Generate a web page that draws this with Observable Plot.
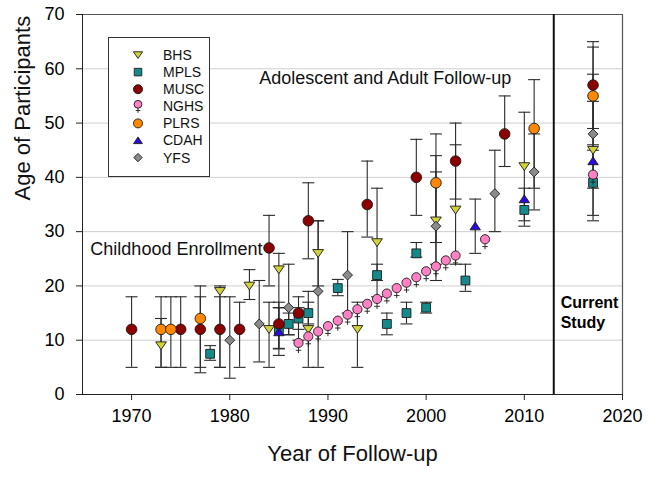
<!DOCTYPE html>
<html>
<head>
<meta charset="utf-8">
<script src="https://cdn.jsdelivr.net/npm/d3@7"></script>
<script src="https://cdn.jsdelivr.net/npm/@observablehq/plot@0.6"></script>
<style>
  body { margin: 0; background: #fff; }
  #chart { position: relative; width: 651px; height: 479px; font-family: Arial, "Liberation Sans", Helvetica, sans-serif; }
  #legend { position: absolute; left: 108px; top: 37px; width: 102px; height: 140px; border: 1px solid #333; background: #fff; box-sizing: border-box; }
</style>
</head>
<body>
<div id="chart"><div id="legend"></div></div>
<script>
// ---- tick labels ----
const xTicks = [1970, 1980, 1990, 2000, 2010, 2020];
const yTicks = [0, 10, 20, 30, 40, 50, 60, 70];
const gridLevels = [10, 20, 30, 40, 50, 60];

// ---- series (year, mean age, error bar low, error bar high) ----
const bhsYear = [1973, 1979, 1982, 1984, 1985, 1988, 1989, 1993, 1995, 2001, 2003, 2010, 2017];
const bhsAge  = [9, 19, 20, 12, 23, 12, 26, 12, 28, 32, 34, 42, 45];
const bhsLo   = [5, 5, 17.5, 5, 16, 5, 20, 5, 18, 24, 24, 32, 32];
const bhsHi   = [14, 20, 23, 17, 26, 19, 32, 17, 38, 44, 46, 52, 54];

const mplsYear = [1978, 1985, 1986, 1987, 1988, 1991, 1995, 1996, 1998, 1999, 2000, 2004, 2010, 2017];
const mplsAge  = [7.5, 12, 13, 14, 15, 19.6, 22, 13, 15, 26, 16, 21, 34, 39];
const mplsLo   = [6.3, 8.5, 11, 12, 13, 18.2, 21, 11, 13, 25.3, 15, 19, 31, 33];
const mplsHi   = [9, 16, 15, 16, 17, 21.2, 24, 15, 17, 28, 17, 24, 38, 45];

const muscYear = [1970, 1975, 1977, 1979, 1981, 1984, 1985, 1987, 1988, 1994, 1999, 2003, 2008, 2017];
const muscAge  = [12, 12, 12, 12, 12, 27, 13, 15, 32, 35, 40, 43, 48, 57];
const muscLo   = [5, 5, 5, 5, 5, 20, 8.4, 10, 25, 29, 33, 36, 42, 49];
const muscHi   = [18, 18, 18, 18, 17, 33, 17, 18, 39, 43, 47, 50, 55, 65];

const nghsYear = [1987, 1988, 1989, 1990, 1991, 1992, 1993, 1994, 1995, 1996, 1997, 1998, 1999, 2000, 2001, 2002, 2003, 2006, 2017];
const nghsAge  = [9.5, 10.7, 11.6, 12.6, 13.6, 14.7, 15.7, 16.7, 17.6, 18.6, 19.6, 20.6, 21.6, 22.7, 23.6, 24.7, 25.6, 28.6, 40.5];

const plrsYear = [1973, 1974, 1977, 2001, 2011, 2017];
const plrsAge  = [12, 12, 14, 39, 49, 55];
const plrsLo   = [5, 5, 4, 28, 38, 46];
const plrsHi   = [18, 18, 20, 48, 58, 64];

const cdahYear = [1985, 2005, 2010, 2017];
const cdahAge  = [11.5, 31, 36, 43];
const cdahLo   = [7.2, 26, null, null];
const cdahHi   = [16, 36, null, null];

const yfsYear = [1980, 1983, 1986, 1989, 1992, 2001, 2007, 2011, 2017];
const yfsAge  = [10, 13, 16, 19, 22, 31, 37, 41, 48];
const yfsLo   = [3, 6, 11, 5, 15, 21, 30, 34, 38];
const yfsHi   = [18, 21, 24, 32, 30, 41, 45, 48, 59];

// ---- symbols ----
const R = s => Math.sqrt(s / Math.PI);
const sym = {
  down: { draw(c, s) { const k = R(s); c.moveTo(-k, -0.7 * k); c.lineTo(k, -0.7 * k); c.lineTo(0, 0.75 * k); c.closePath(); } },
  up: { draw(c, s) { const k = R(s); c.moveTo(0, -0.8 * k); c.lineTo(k, 0.7 * k); c.lineTo(-k, 0.7 * k); c.closePath(); } },
  square: { draw(c, s) { const k = R(s); c.rect(-0.85 * k, -0.85 * k, 1.7 * k, 1.7 * k); } },
  circle: { draw(c, s) { const k = R(s); c.moveTo(k, 0); c.arc(0, 0, k, 0, 2 * Math.PI); c.closePath(); } },
  diamond: { draw(c, s) { const k = R(s) * 1.05; c.moveTo(0, -k); c.lineTo(k, 0); c.lineTo(0, k); c.lineTo(-k, 0); c.closePath(); } },
  female: { draw(c, s) { const k = R(s); c.moveTo(k, 0); c.arc(0, 0, k, 0, 2 * Math.PI); c.closePath();
    c.moveTo(0, k); c.lineTo(0, 2.2 * k); c.moveTo(-0.6 * k, 1.6 * k); c.lineTo(0.6 * k, 1.6 * k); } },
  cap: { draw(c) { c.moveTo(-6, 0); c.lineTo(6, 0); } }
};

const series = [
  { name: "BHS",  year: bhsYear,  age: bhsAge,  lo: bhsLo,  hi: bhsHi,  fill: "#d2d23a", symbol: sym.down,    r: 5.4 },
  { name: "MPLS", year: mplsYear, age: mplsAge, lo: mplsLo, hi: mplsHi, fill: "#168a8a", symbol: sym.square,  r: 5.2 },
  { name: "MUSC", year: muscYear, age: muscAge, lo: muscLo, hi: muscHi, fill: "#8b0000", symbol: sym.circle,  r: 5.3 },
  { name: "NGHS", year: nghsYear, age: nghsAge, lo: null,   hi: null,   fill: "#ff80c4", symbol: sym.female,  r: 4.6 },
  { name: "PLRS", year: plrsYear, age: plrsAge, lo: plrsLo, hi: plrsHi, fill: "#ff8800", symbol: sym.circle,  r: 5.3 },
  { name: "CDAH", year: cdahYear, age: cdahAge, lo: cdahLo, hi: cdahHi, fill: "#2a0ae0", symbol: sym.up,      r: 5.2 },
  { name: "YFS",  year: yfsYear,  age: yfsAge,  lo: yfsLo,  hi: yfsHi,  fill: "#8a8a8a", symbol: sym.diamond, r: 4.7 }
];

const errRows = series.flatMap(s => s.lo ? s.year.map((y, i) => ({ year: y, lo: s.lo[i], hi: s.hi[i] })).filter(d => d.lo != null) : []);
const pointMarks = series.map(s => Plot.dot(s.year.map((y, i) => ({ year: y, age: s.age[i] })), {
  x: "year", y: "age", symbol: s.symbol, r: s.r, fill: s.fill, stroke: "#1a1a1a", strokeWidth: 0.9
}));

const FONT = 'Arial, "Liberation Sans", Helvetica, sans-serif';

const chart = Plot.plot({
  width: 651, height: 479,
  marginLeft: 82, marginRight: 29, marginTop: 14, marginBottom: 85,
  x: { domain: [1965, 2020] },
  y: { domain: [0, 70] },
  style: { fontFamily: FONT, fontSize: "18px", color: "#000", background: "transparent", overflow: "visible" },
  marks: [
    Plot.ruleY(gridLevels, { stroke: "#cfcfcf", strokeWidth: 1 }),
    Plot.ruleY([70], { stroke: "#555", strokeWidth: 1.2 }),
    Plot.ruleX([2020], { stroke: "#555", strokeWidth: 1.2 }),
    Plot.ruleX([1965], { stroke: "#222", strokeWidth: 1 }),
    Plot.ruleY([0], { stroke: "#222", strokeWidth: 1 }),
    Plot.ruleX([2013], { stroke: "#111", strokeWidth: 2 }),
    Plot.axisX(xTicks, { tickSize: 6, tickPadding: 9, tickFormat: d => String(d), label: null, fontSize: 18, stroke: "#222" }),
    Plot.axisY(yTicks, { tickSize: 6, tickPadding: 12, label: null, fontSize: 18, stroke: "#222" }),
    Plot.ruleX(errRows, { x: "year", y1: "lo", y2: "hi", stroke: "#2a2a2a", strokeWidth: 1.1 }),
    Plot.dot(errRows, { x: "year", y: "lo", symbol: sym.cap, fill: "none", stroke: "#2a2a2a", strokeWidth: 1.1 }),
    Plot.dot(errRows, { x: "year", y: "hi", symbol: sym.cap, fill: "none", stroke: "#2a2a2a", strokeWidth: 1.1 }),
    ...pointMarks,
    Plot.text(["Adolescent and Adult Follow-up"], { x: 1983.0, y: 58.2, text: d => d, textAnchor: "start", fontSize: 18, fill: "#111" }),
    Plot.text(["Childhood Enrollment"], { x: 1965.8, y: 26.7, text: d => d, textAnchor: "start", fontSize: 18, fill: "#111" }),
    Plot.text(["Current\nStudy"], { x: 2013.7, y: 15.2, text: d => d, textAnchor: "start", fontSize: 16, fontWeight: "bold", lineHeight: 1.25, fill: "#000" }),
    Plot.text(["Year of Follow-up"], { frameAnchor: "bottom", dy: 66, text: d => d, fontSize: 22, fill: "#111" }),
    Plot.text(["Age of Participants"], { frameAnchor: "left", dx: -60, dy: -4, rotate: -90, text: d => d, fontSize: 22, fill: "#111" })
  ]
});
const host = document.getElementById("chart");
chart.style.position = "absolute";
chart.style.left = "0px";
chart.style.top = "0px";
host.insertBefore(chart, host.firstChild);

// ---- legend ----
const lg = d3.select("#legend").append("svg").attr("width", 100).attr("height", 138)
  .style("font-family", FONT);
series.forEach((s, i) => {
  const y = 17 + i * 17.1;
  lg.append("path")
    .attr("transform", `translate(29,${s.name === "NGHS" ? y - 2 : y})`)
    .attr("d", d3.symbol(s.symbol, Math.PI * (s.r * 0.85) ** 2)())
    .attr("fill", s.fill).attr("stroke", "#1a1a1a").attr("stroke-width", 0.9);
  lg.append("text").attr("x", 54).attr("y", y).attr("dy", "0.35em")
    .attr("font-size", 14).attr("fill", "#111").text(s.name);
});
</script>
</body>
</html>
